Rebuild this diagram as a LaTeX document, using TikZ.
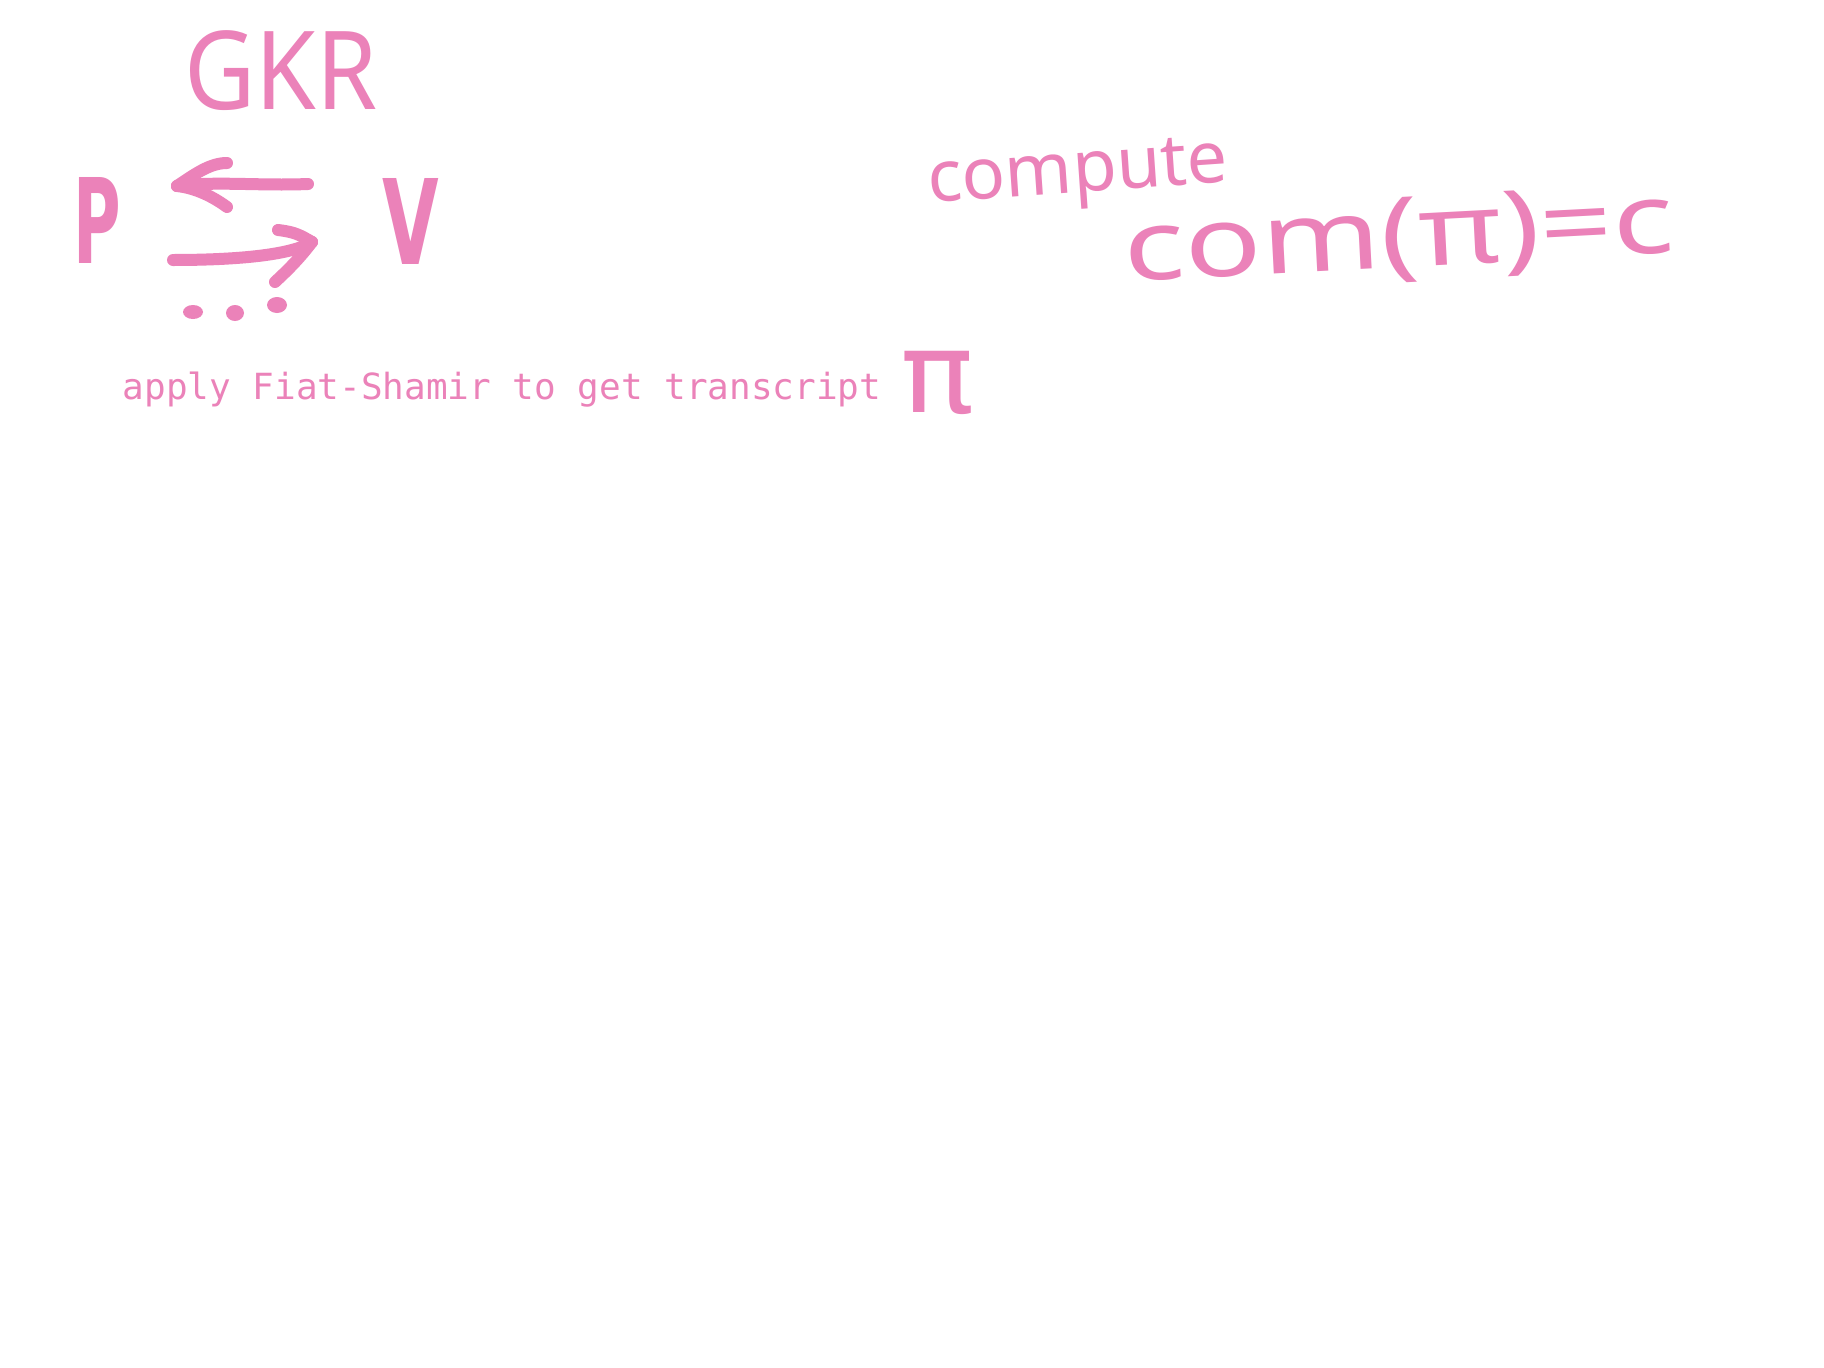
\documentclass[tikz,border=0pt]{standalone}
\usepackage{fontspec}
\setmainfont{Noto Sans}
\newfontfamily\monofnt{DejaVu Sans Mono}
\newfontfamily\heavyfnt{DejaVu Sans}
\definecolor{ink}{RGB}{235,130,185}
\begin{document}
\begin{tikzpicture}[x=1pt,y=-1pt,
  txt/.style={inner sep=0pt, text=ink},
  stroke/.style={draw=ink, line width=12pt, line cap=round, line join=round},
  blob/.style={fill=ink}]
\fill[white] (0,0) rectangle (1824,1368);
\useasboundingbox (0,0) rectangle (1824,1368);

% titles and typed text
\node[txt, anchor=base, xscale=0.9] (gkr) at (281,109) {\fontsize{109}{120}\selectfont GKR};
\node[txt, anchor=base] (fs) at (502,399) {\monofnt\fontsize{36}{40}\selectfont apply Fiat-Shamir to get transcript};

% handwritten parties
\node[txt, anchor=base, xscale=0.55] (P) at (97,263) {\heavyfnt\bfseries\fontsize{118}{130}\selectfont P};
\node[txt, anchor=base, xscale=0.62] (V) at (411,264) {\heavyfnt\bfseries\fontsize{118}{130}\selectfont V};

% handwritten pi
\node[txt, anchor=base, xscale=1.1] (pi) at (938,412) {\heavyfnt\fontsize{112}{120}\selectfont π};

% handwritten compute line
\node[txt, rotate=4] (comp) at (1078,177) {\fontsize{72}{80}\selectfont compute};
\node[txt, rotate=3, xscale=1.3] (com) at (1399,240) {\fontsize{98}{104}\selectfont com(π)=c};

% arrows between P and V
\coordinate (a1s) at (308,184);
\coordinate (a1e) at (177,186);
\coordinate (a1u) at (227,163);
\coordinate (a1d) at (227,207);
\draw[stroke] (a1s) .. controls (260,186) and (215,181) .. (a1e);
\draw[stroke] (a1e) .. controls (195,174) and (210,163) .. (a1u);
\draw[stroke] (a1e) .. controls (195,188) and (212,196) .. (a1d);

\coordinate (b1s) at (173,260);
\coordinate (b1e) at (312,242);
\coordinate (b1u) at (278,230);
\coordinate (b1d) at (275,282);
\draw[stroke] (b1s) .. controls (230,260) and (290,256) .. (b1e);
\draw[stroke] (b1u) .. controls (295,232) and (300,235) .. (b1e);
\draw[stroke] (b1e) .. controls (300,258) and (288,270) .. (b1d);

% dots
\fill[blob] (193,312) ellipse [x radius=10pt, y radius=7pt];
\fill[blob] (235,313) ellipse [x radius=9pt, y radius=8pt];
\fill[blob] (277,305) ellipse [x radius=10pt, y radius=8pt];
\end{tikzpicture}
\end{document}
